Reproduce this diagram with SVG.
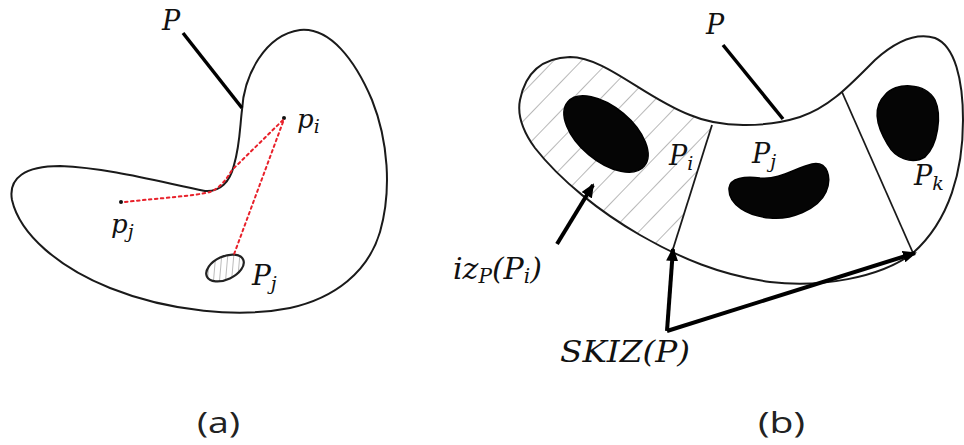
<svg xmlns="http://www.w3.org/2000/svg" width="964" height="445" viewBox="0 0 964 445">
<style>
.m{font-family:"DejaVu Serif","Liberation Serif",serif;font-style:italic;fill:#111;}
.sub{font-size:19px;}
.lbl{font-family:"Open Sans","DejaVu Sans",sans-serif;font-size:30px;fill:#222;}
.outline{fill:none;stroke:#1a1a1a;stroke-width:2;stroke-linejoin:round;}
.thin{fill:none;stroke:#1a1a1a;stroke-width:1.8;}
.ptr{stroke:#000;stroke-width:3.5;stroke-linecap:butt;fill:none;}
.arr{stroke:#000;stroke-width:4;fill:none;}
.red{stroke:#e8202a;stroke-width:2;fill:none;stroke-dasharray:2.5 3.5;stroke-linecap:round;}
.blob{fill:#050505;stroke:#000;stroke-width:1.5;}
</style>
<defs>
<pattern id="hatchB" width="20" height="20" patternUnits="userSpaceOnUse" patternTransform="rotate(44)">
<line x1="0" y1="0" x2="0" y2="20" stroke="#888" stroke-width="1.2"/>
</pattern>
<pattern id="hatchA" width="6" height="6" patternUnits="userSpaceOnUse" patternTransform="rotate(30)">
<line x1="0" y1="0" x2="0" y2="6" stroke="#777" stroke-width="1"/>
</pattern>
<clipPath id="clipOutB">
<path d="M 520,100 C 525,75 540,58 570,57 C 605,57 645,98 690,115 C 720,128 765,128 800,117 C 830,107 850,85 875,60 C 895,42 915,32 935,38 C 955,46 963,80 963,120 C 963,170 950,220 913,253 C 880,278 820,288 770,282 C 720,275 680,258 640,235 C 600,212 560,180 535,148 C 522,130 517,115 520,100 Z"/>
</clipPath>
<clipPath id="clipLeft">
<polygon points="500,0 722,0 712,125 673,249 660,300 500,300"/>
</clipPath>
<marker id="ah" markerUnits="userSpaceOnUse" markerWidth="14" markerHeight="12" refX="12" refY="6" orient="auto">
<path d="M0,0 L14,6 L0,12 Z" fill="#000"/>
</marker>
</defs>

<!-- Panel (a) -->
<g id="shapeA">
<path class="outline" d="M 242,110 C 244,75 265,35 300,30 C 330,27 355,60 372,100 C 388,140 392,190 380,232 C 368,272 335,298 290,308 C 240,318 170,312 110,288 C 60,268 20,235 12,200 C 8,178 25,166 60,166 C 110,168 160,182 205,191 C 220,192 230,182 234,165 C 240,145 240,125 242,110 Z"/>
</g>
<g id="holeA">
<ellipse cx="225" cy="268" rx="20" ry="11.5" transform="rotate(-25 225 268)" fill="url(#hatchA)" stroke="#222" stroke-width="2.2"/>
</g>
<g id="pointsA">
<circle cx="284" cy="118" r="2" fill="#111"/>
<circle cx="121" cy="202" r="2" fill="#111"/>
</g>
<g id="connectorsA">
<line class="ptr" x1="183" y1="33" x2="242" y2="108"/>
<path class="red" d="M 125,202 C 160,198 195,196 210,192 C 220,188 226,180 232,170 L 283,120"/>
<path class="red" d="M 283,122 L 233,257"/>
</g>
<g id="labelsA">
<text class="m" x="162" y="30" font-size="27">P</text>
<text class="m" x="297" y="128" font-size="26">p<tspan class="sub" dy="5">i</tspan></text>
<text class="m" x="111" y="233" font-size="26">p<tspan class="sub" dy="5">j</tspan></text>
<text class="m" x="252" y="285" font-size="28">P<tspan class="sub" dy="5">j</tspan></text>
<text class="lbl" x="197" y="433" textLength="43" lengthAdjust="spacingAndGlyphs">(a)</text>
</g>

<!-- Panel (b) -->
<g id="izRegion" clip-path="url(#clipOutB)">
<g clip-path="url(#clipLeft)">
<rect x="500" y="30" width="230" height="270" fill="url(#hatchB)"/>
</g>
</g>
<g id="shapeB">
<path class="outline" d="M 520,100 C 525,75 540,58 570,57 C 605,57 645,98 690,115 C 720,128 765,128 800,117 C 830,107 850,85 875,60 C 895,42 915,32 935,38 C 955,46 963,80 963,120 C 963,170 950,220 913,253 C 880,278 820,288 770,282 C 720,275 680,258 640,235 C 600,212 560,180 535,148 C 522,130 517,115 520,100 Z"/>
<line class="thin" x1="712" y1="125" x2="673" y2="249"/>
<line class="thin" x1="842" y1="92" x2="913" y2="253"/>
</g>
<g id="Pi">
<ellipse class="blob" cx="606" cy="134" rx="50" ry="27" transform="rotate(40 606 134)"/>
</g>
<g id="Pj">
<path class="blob" d="M 729,188 C 730,178 745,176 760,178 C 780,180 795,168 812,164 C 828,161 832,178 826,192 C 818,210 790,220 770,218 C 748,216 728,205 729,188 Z"/>
</g>
<g id="Pk">
<path class="blob" d="M 885,95 C 895,82 925,82 935,100 C 942,115 938,145 925,157 C 912,165 895,158 888,145 C 880,132 870,110 885,95 Z"/>
</g>
<g id="connectorsB">
<line class="ptr" x1="723" y1="45" x2="783" y2="119"/>
<line class="arr" x1="557" y1="244" x2="593" y2="185" marker-end="url(#ah)"/>
<line class="arr" x1="667" y1="331" x2="673" y2="249" marker-end="url(#ah)"/>
<line class="arr" x1="667" y1="331" x2="915" y2="253" marker-end="url(#ah)"/>
</g>
<g id="labelsB">
<text class="m" x="706" y="34" font-size="27">P</text>
<text class="m" x="669" y="165" font-size="27">P<tspan class="sub" dy="5">i</tspan></text>
<text class="m" x="752" y="163" font-size="27">P<tspan class="sub" dy="5">j</tspan></text>
<text class="m" x="914" y="185" font-size="27">P<tspan class="sub" dy="5">k</tspan></text>
<text class="m" x="453" y="279" font-size="30">iz<tspan class="sub" dy="4" style="font-size:20px">P</tspan><tspan dy="-4">(P</tspan><tspan class="sub" dy="4" style="font-size:20px">i</tspan><tspan dy="-4">)</tspan></text>
<text class="m" x="560" y="362" font-size="30" textLength="130" lengthAdjust="spacingAndGlyphs">SKIZ(P)</text>
<text class="lbl" x="758" y="433" textLength="47" lengthAdjust="spacingAndGlyphs">(b)</text>
</g>
</svg>
